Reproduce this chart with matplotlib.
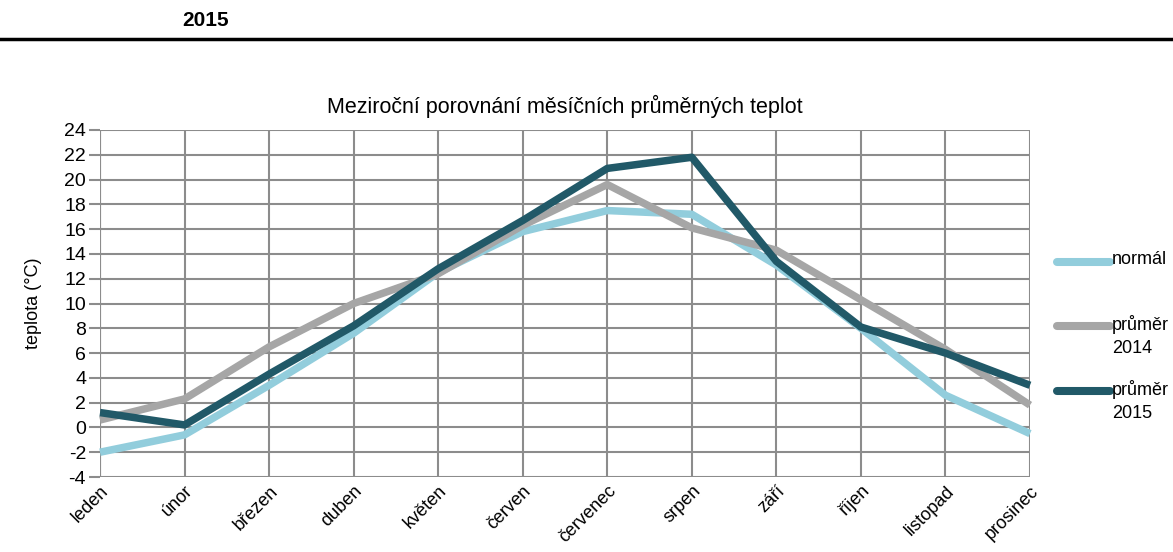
import matplotlib.pyplot as plt
from matplotlib.lines import Line2D

months = ["leden", "únor", "březen", "duben", "květen", "červen",
          "červenec", "srpen", "září", "říjen", "listopad", "prosinec"]
normal = [-2.0, -0.6, 3.4, 7.6, 12.5, 15.8, 17.5, 17.2, 13.1, 8.0, 2.6, -0.5]
avg2014 = [0.6, 2.3, 6.5, 10.0, 12.4, 16.3, 19.6, 16.1, 14.3, 10.3, 6.3, 1.8]
avg2015 = [1.2, 0.2, 4.3, 8.2, 12.8, 16.7, 20.9, 21.8, 13.4, 8.1, 6.0, 3.4]
labels = ["normál", "průměr\n2014", "průměr\n2015"]
colors = ["#92CDDC", "#A6A6A6", "#215968"]
yticks = list(range(-4, 25, 2))

plt.rcParams['font.family'] = ['Liberation Sans', 'DejaVu Sans']

fig = plt.figure(figsize=(11.73, 5.52), dpi=100)
ax = fig.add_axes([100 / 1173, 75 / 552, 930 / 1173, 347 / 552])

x = list(range(len(months)))
for series, c in zip([normal, avg2014, avg2015], colors):
    ax.plot(x, series, color=c, lw=5.4, solid_capstyle='butt', zorder=3, clip_on=False)

ax.set_xlim(0, 11)
ax.set_ylim(-4, 24)
ax.set_yticks(yticks)
ax.set_yticklabels([str(v) for v in yticks], fontsize=14)
ax.set_xticks(x)
ax.set_xticklabels(months, rotation=45, ha='right', rotation_mode='anchor', fontsize=13)
ax.grid(True, color='#8C8C8C', lw=1.5)
ax.tick_params(axis='y', length=8, color='#8C8C8C', width=1.5, pad=2)
ax.tick_params(axis='x', length=0, pad=4)
for s in ax.spines.values():
    s.set_visible(False)
ax.axvline(0, color='#8C8C8C', lw=1.5)
ax.set_ylabel("teplota (°C)", fontsize=13, labelpad=16)
ax.set_title("Meziroční porovnání měsíčních průměrných teplot", fontsize=15.5, pad=12)

# legend on the right
leg_y = [262, 326, 391]
for lab, c, yy in zip(labels, colors, leg_y):
    fy = 1 - yy / 552
    fig.add_artist(Line2D([1057 / 1173, 1110 / 1173], [fy, fy], color=c, lw=5.8,
                          solid_capstyle='round', transform=fig.transFigure))
    fig.text(1112 / 1173, fy + 11 / 552, lab, fontsize=13, va='top', ha='left',
             linespacing=1.45)

# header
fig.add_artist(Line2D([0, 1], [1 - 39 / 552, 1 - 39 / 552], color='black', lw=2.5,
                      transform=fig.transFigure))
fig.text(206 / 1173, 1 - 20 / 552, "2015", fontsize=15, fontweight='bold',
         ha='center', va='center')

fig.savefig("out.png", dpi=100)
